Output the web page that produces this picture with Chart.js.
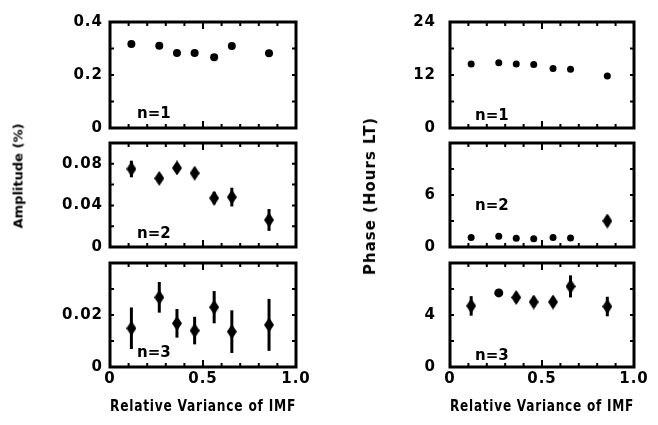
<!DOCTYPE html>
<html>
<head>
<meta charset="utf-8">
<script src="https://cdn.jsdelivr.net/npm/chart.js"></script>
<style>
  body { margin: 0; background: #fff; }
  #wrap { position: relative; width: 658px; height: 425px; overflow: hidden; background: #fff; }
  canvas { position: absolute; }
  .ytitle {
    position: absolute; white-space: nowrap; color: #000;
    font-family: 'DejaVu Sans', sans-serif; font-weight: bold;
    transform: translate(-50%, -50%) rotate(-90deg);
  }
</style>
</head>
<body>
<div id="wrap">
  <canvas id="a1" width="330" height="135" style="left:0;top:0"></canvas>
  <canvas id="a2" width="330" height="120" style="left:0;top:135px"></canvas>
  <canvas id="a3" width="330" height="170" style="left:0;top:255px"></canvas>
  <canvas id="p1" width="328" height="135" style="left:330px;top:0"></canvas>
  <canvas id="p2" width="328" height="120" style="left:330px;top:135px"></canvas>
  <canvas id="p3" width="328" height="170" style="left:330px;top:255px"></canvas>
  <div class="ytitle" style="left:18px;top:176px;font-size:13px">Amplitude (%)</div>
  <div class="ytitle" style="left:370px;top:196px;font-size:15px;letter-spacing:1px">Phase (Hours LT)</div>
</div>
<script>
// relative variance of IMF (same bins in every panel)
const variance = [0.115, 0.265, 0.36, 0.455, 0.56, 0.655, 0.855];

// amplitude (%)
const amp1 = [0.317, 0.31, 0.283, 0.283, 0.267, 0.309, 0.282];
const amp2 = [0.075, 0.066, 0.076, 0.071, 0.047, 0.048, 0.026];
const amp2Err = [0.008, 0.004, 0.004, 0.004, 0.006, 0.009, 0.0105];
const amp3 = [0.0149, 0.0268, 0.0168, 0.014, 0.023, 0.0136, 0.0162];
const amp3Err = [0.008, 0.0059, 0.0055, 0.0053, 0.0062, 0.0082, 0.010];

// phase (hours LT)
const phase1 = [14.5, 14.8, 14.5, 14.4, 13.5, 13.3, 11.8];
const phase2 = [1.1, 1.25, 1.0, 0.95, 1.1, 1.05, 3.0];
const phase2Err = [0, 0, 0, 0, 0, 0, 0.6];
const phase3 = [4.7, 5.7, 5.35, 5.0, 5.0, 6.2, 4.65];
const phase3Err = [0.75, 0.2, 0.4, 0.4, 0.4, 0.85, 0.75];

// tick labels
const xTickLabels = ['0', '0.5', '1.0'];
const ampTicks1 = ['0', '0.2', '0.4'];
const ampTicks2 = ['0', '0.04', '0.08'];
const ampTicks3 = ['0', '0.02'];
const phaseTicks1 = ['0', '12', '24'];
const phaseTicks2 = ['0', '6'];
const phaseTicks3 = ['0', '4'];

const FONT = "'DejaVu Sans', sans-serif";

function diamond(w, h) {
    const c = document.createElement('canvas');
    c.width = w; c.height = h;
    const g = c.getContext('2d');
    g.fillStyle = '#000';
    g.beginPath();
    g.moveTo(w / 2, 0); g.lineTo(w, h / 2); g.lineTo(w / 2, h); g.lineTo(0, h / 2);
    g.closePath(); g.fill();
    return c;
}
const dia = diamond(10, 15);

function pickLabel(list, v) {
    const hit = list.find(s => Math.abs(parseFloat(s) - v) < 1e-9);
    return hit === undefined ? '' : hit;
}

// error bars, drawn under the markers
const errorBars = {
    id: 'errorBars',
    beforeDatasetsDraw(chart) {
        const ctx = chart.ctx, y = chart.scales.y;
        chart.data.datasets.forEach((ds, di) => {
            if (!ds.errors) return;
            const meta = chart.getDatasetMeta(di);
            ctx.save();
            ctx.strokeStyle = '#000';
            ctx.lineWidth = 3;
            meta.data.forEach((pt, i) => {
                const e = ds.errors[i];
                if (!e) return;
                const v = ds.data[i].y;
                ctx.beginPath();
                ctx.moveTo(pt.x, y.getPixelForValue(v + e));
                ctx.lineTo(pt.x, y.getPixelForValue(v - e));
                ctx.stroke();
            });
            ctx.restore();
        });
    }
};

// box, inward ticks and the n= label
const frame = {
    id: 'frame',
    beforeDraw(chart) {
        chart.ctx.letterSpacing = '1px';
    },
    afterDraw(chart, args, opts) {
        const { ctx, chartArea: a, scales: { x, y } } = chart;
        ctx.save();
        ctx.strokeStyle = '#000';
        ctx.lineWidth = 2;
        ctx.beginPath();
        x.ticks.forEach(t => {
            const px = x.getPixelForValue(t.value);
            const len = Math.abs(t.value - 0.5) < 1e-6 ? 7 : 4;
            ctx.moveTo(px, a.top); ctx.lineTo(px, a.top + len);
            ctx.moveTo(px, a.bottom); ctx.lineTo(px, a.bottom - len);
        });
        y.ticks.forEach(t => {
            const py = y.getPixelForValue(t.value);
            ctx.moveTo(a.left, py); ctx.lineTo(a.left + 4, py);
            ctx.moveTo(a.right, py); ctx.lineTo(a.right - 4, py);
        });
        ctx.stroke();
        ctx.lineWidth = 3;
        ctx.strokeRect(a.left, a.top, a.right - a.left, a.bottom - a.top);
        if (opts.label) {
            ctx.letterSpacing = '0px';
            ctx.fillStyle = '#000';
            ctx.font = 'bold 15px ' + FONT;
            ctx.textAlign = 'left';
            ctx.textBaseline = 'alphabetic';
            ctx.fillText(opts.label, a.left + opts.dx, a.bottom - opts.dy);
        }
        ctx.restore();
    }
};

function noPad(s) {
    s.paddingTop = 0; s.paddingBottom = 0; s.paddingLeft = 0; s.paddingRight = 0;
}

function panel(id, ys, errs, cfg) {
    const tickFont = { family: FONT, size: 15, weight: 'bold' };
    new Chart(document.getElementById(id), {
        type: 'scatter',
        data: {
            datasets: [{
                data: variance.map((v, i) => ({ x: v, y: ys[i] })),
                errors: errs,
                pointStyle: cfg.pointStyle,
                pointRadius: cfg.radius,
                backgroundColor: '#000',
                borderWidth: 0
            }]
        },
        options: {
            responsive: false,
            animation: false,
            layout: { padding: cfg.padding },
            plugins: {
                legend: { display: false },
                tooltip: { enabled: false },
                frame: { label: cfg.label, dx: cfg.labelDx, dy: cfg.labelDy }
            },
            scales: {
                x: {
                    type: 'linear', min: 0, max: 1,
                    grid: { display: false, drawTicks: false },
                    border: { display: false },
                    ticks: {
                        display: cfg.bottom, stepSize: 0.1, padding: 3,
                        maxRotation: 0, autoSkip: false,
                        color: '#000', font: tickFont,
                        callback: v => pickLabel(xTickLabels, v)
                    },
                    title: {
                        display: cfg.bottom, text: 'Relative Variance of IMF',
                        color: '#000', font: { family: FONT, size: 16.5, weight: 'bold' },
                        padding: { top: 0, bottom: 8 }
                    },
                    afterFit: s => { s.height = cfg.bottom ? 58 : 0; noPad(s); }
                },
                y: {
                    min: 0, max: cfg.max,
                    grid: { display: false, drawTicks: false },
                    border: { display: false },
                    ticks: {
                        stepSize: cfg.step, padding: cfg.tickPad, autoSkip: false,
                        color: '#000', font: tickFont,
                        callback: v => pickLabel(cfg.labels, v)
                    },
                    afterFit: s => { s.width = cfg.axisWidth; noPad(s); }
                }
            }
        },
        plugins: [errorBars, frame]
    });
}

const left = { axisWidth: 110, tickPad: 7, labelDx: 27 };
const right = { axisWidth: 120, tickPad: 14, labelDx: 25 };
const row1 = { padding: { top: 22, bottom: 7, left: 0 }, bottom: false };
const row2 = { padding: { top: 8, bottom: 8, left: 0 }, bottom: false };
const row3 = { padding: { top: 8, bottom: 0, left: 0 }, bottom: true };

panel('a1', amp1, null, { ...left, ...row1, padding: { ...row1.padding, right: 34 },
    max: 0.4, step: 0.1, labels: ampTicks1, pointStyle: 'circle', radius: 4,
    label: 'n=1', labelDy: 10 });
panel('a2', amp2, amp2Err, { ...left, ...row2, padding: { ...row2.padding, right: 34 },
    max: 0.1, step: 0.02, labels: ampTicks2, pointStyle: dia, radius: 5,
    label: 'n=2', labelDy: 9 });
panel('a3', amp3, amp3Err, { ...left, ...row3, padding: { ...row3.padding, right: 34 },
    max: 0.04, step: 0.01, labels: ampTicks3, pointStyle: dia, radius: 5,
    label: 'n=3', labelDy: 10 });
panel('p1', phase1, null, { ...right, ...row1, padding: { ...row1.padding, right: 24 },
    max: 24, step: 6, labels: phaseTicks1, pointStyle: 'circle', radius: 3.5,
    label: 'n=1', labelDy: 8 });
panel('p2', phase2, phase2Err, { ...right, ...row2, padding: { ...row2.padding, right: 24 },
    max: 12, step: 3, labels: phaseTicks2,
    pointStyle: ['circle', 'circle', 'circle', 'circle', 'circle', 'circle', dia], radius: 3.5,
    label: 'n=2', labelDy: 37 });
panel('p3', phase3, phase3Err, { ...right, ...row3, padding: { ...row3.padding, right: 24 },
    max: 8, step: 2, labels: phaseTicks3,
    pointStyle: [dia, 'circle', dia, dia, dia, dia, dia], radius: 4.5,
    label: 'n=3', labelDy: 7 });
</script>
</body>
</html>
